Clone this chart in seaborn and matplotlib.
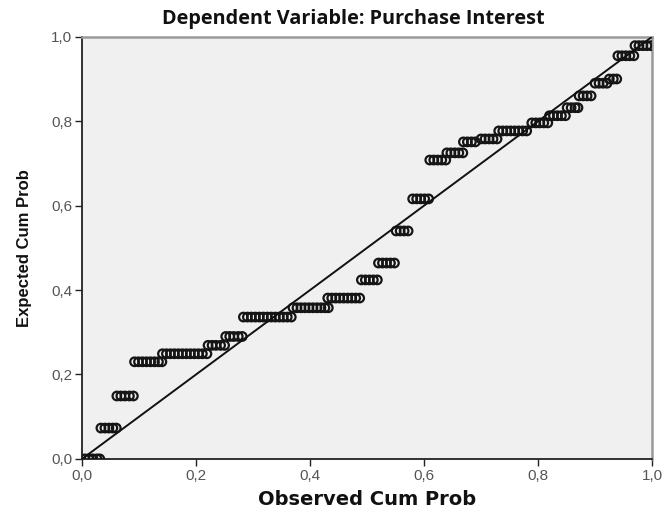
import matplotlib
matplotlib.use("Agg")
import matplotlib.pyplot as plt
import seaborn as sns
import pandas as pd

# Expected cumulative probability of each step, and the observed cum prob of the cases in it
expected_levels = [0.0, 0.073, 0.149, 0.230, 0.249, 0.269, 0.290, 0.336, 0.358, 0.381,
                   0.424, 0.464, 0.540, 0.616, 0.708, 0.725, 0.751, 0.758, 0.777,
                   0.796, 0.813, 0.832, 0.860, 0.890, 0.900, 0.955, 0.979]
observed_groups = [
    [0.005, 0.012, 0.019, 0.026, 0.031],
    [0.033, 0.040, 0.047, 0.054, 0.060],
    [0.061, 0.068, 0.075, 0.083, 0.090],
    [0.092, 0.099, 0.106, 0.113, 0.120, 0.127, 0.134, 0.140],
    [0.141, 0.148, 0.155, 0.162, 0.169, 0.176, 0.183, 0.190, 0.197, 0.204, 0.211, 0.219],
    [0.221, 0.228, 0.235, 0.243, 0.250],
    [0.252, 0.259, 0.266, 0.274, 0.281],
    [0.283, 0.290, 0.297, 0.304, 0.311, 0.318, 0.325, 0.332, 0.339, 0.346, 0.353, 0.360, 0.367],
    [0.370, 0.377, 0.384, 0.391, 0.398, 0.405, 0.412, 0.419, 0.426, 0.432],
    [0.431, 0.438, 0.445, 0.452, 0.459, 0.466, 0.473, 0.480, 0.487],
    [0.490, 0.497, 0.504, 0.511, 0.518],
    [0.520, 0.527, 0.534, 0.541, 0.548],
    [0.551, 0.558, 0.565, 0.572],
    [0.580, 0.587, 0.594, 0.601, 0.608],
    [0.610, 0.617, 0.624, 0.631, 0.638],
    [0.640, 0.647, 0.654, 0.661, 0.668],
    [0.669, 0.676, 0.683, 0.690],
    [0.700, 0.707, 0.714, 0.721, 0.728],
    [0.731, 0.738, 0.745, 0.752, 0.759, 0.766, 0.773, 0.780],
    [0.789, 0.796, 0.803, 0.810, 0.817],
    [0.820, 0.827, 0.834, 0.841, 0.848],
    [0.851, 0.858, 0.865, 0.870],
    [0.872, 0.879, 0.886, 0.893],
    [0.900, 0.907, 0.914, 0.921],
    [0.925, 0.932, 0.938],
    [0.940, 0.947, 0.954, 0.961, 0.968],
    [0.970, 0.977, 0.984, 0.991, 0.998],
]
tick_values = [0.0, 0.2, 0.4, 0.6, 0.8, 1.0]
tick_labels = ["0,0", "0,2", "0,4", "0,6", "0,8", "1,0"]

rows = []
for level, xs in zip(expected_levels, observed_groups):
    for x in xs:
        rows.append({"observed": x, "expected": level})
df = pd.DataFrame(rows)

sns.set_style("white")
fig = plt.figure(figsize=(6.62, 5.11), dpi=100)
ax = fig.add_axes([0.124, 0.102, 0.861, 0.826])
ax.set_facecolor("#f0f0f0")

sns.scatterplot(data=df, x="observed", y="expected", marker="o", s=38,
                edgecolor="#151515", linewidth=1.6, ax=ax, zorder=3)
for coll in ax.collections:
    coll.set_facecolor("none")

# reference line
sns.lineplot(x=[0, 1], y=[0, 1], color="#111111", linewidth=1.4, ax=ax, zorder=4)

ax.set_xlim(0, 1)
ax.set_ylim(0, 1)
ax.set_xticks(tick_values)
ax.set_xticklabels(tick_labels)
ax.set_yticks(tick_values)
ax.set_yticklabels(tick_labels)
ax.tick_params(axis="both", direction="out", length=5, width=1, color="#222222",
               labelcolor="#555555", labelsize=11, pad=2, left=True, bottom=True)
for lab in ax.get_xticklabels() + ax.get_yticklabels():
    lab.set_family("Liberation Sans")

for side in ["left", "bottom"]:
    ax.spines[side].set_color("#222222")
    ax.spines[side].set_linewidth(1.3)
for side in ["top", "right"]:
    ax.spines[side].set_color("#9a9a9a")
    ax.spines[side].set_linewidth(1.8)

fig.text(353 / 662, 1 - 19 / 511, "Dependent Variable: Purchase Interest", fontsize=14.3,
         fontweight="bold", family="Open Sans", ha="center", va="center", color="#111111")
ax.set_xlabel("Observed Cum Prob", fontsize=14, fontweight="bold", family="DejaVu Sans",
              labelpad=5, color="#111111")
ax.set_ylabel("Expected Cum Prob", fontsize=12, fontweight="bold", family="Liberation Sans",
              labelpad=14, color="#111111")

fig.savefig("out.png", dpi=100, facecolor="white")
